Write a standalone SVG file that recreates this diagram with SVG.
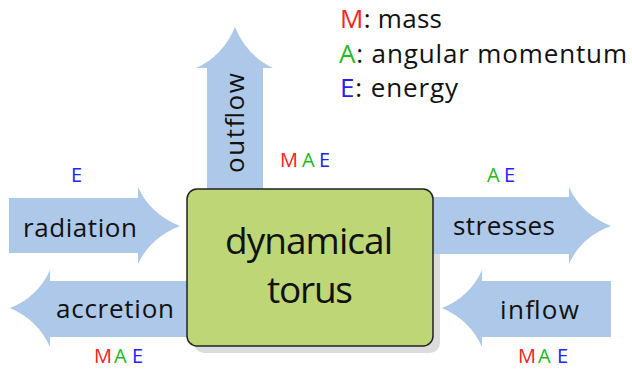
<svg xmlns="http://www.w3.org/2000/svg" width="632" height="369" viewBox="0 0 632 369">
<style>
  .arrow { fill: #adc8e8; }
  .lbl { font-family: "Open Sans", "DejaVu Sans", sans-serif; font-size: 26px; fill: #111; text-anchor: middle; }
  .big { font-family: "Open Sans", "DejaVu Sans", sans-serif; font-size: 37px; fill: #111; text-anchor: middle; }
  .leg { font-family: "Open Sans", "DejaVu Sans", sans-serif; font-size: 26px; fill: #111; }
  .tag { font-family: "Open Sans", "DejaVu Sans", sans-serif; font-size: 20px; }
  .m { fill: #ff2222; }
  .a { fill: #22bb22; }
  .e { fill: #2222ff; }
</style>
<rect width="632" height="369" fill="#ffffff"/>

<g id="legend">
  <text class="leg" x="340" y="28" textLength="102"><tspan class="m">M</tspan>: mass</text>
  <text class="leg" x="339" y="63" textLength="288"><tspan class="a">A</tspan>: angular momentum</text>
  <text class="leg" x="340" y="97" textLength="118"><tspan class="e">E</tspan>: energy</text>
</g>

<rect id="torus-shadow" x="194" y="196" width="246" height="157" rx="10" fill="#dcdcdc"/>

<g id="connectors">
  <g id="outflow">
    <path class="arrow" d="M207,195 V68 H196 Q223,56 235,27 Q247,56 273,68 H263 V195 Z"/>
    <text class="lbl" transform="translate(244,123) rotate(-90)" x="0" y="0" textLength="100">outflow</text>
    <text class="tag" y="167"><tspan class="m" x="280">M</tspan><tspan class="a" x="302">A</tspan><tspan class="e" x="319">E</tspan></text>
  </g>
  <g id="radiation">
    <path class="arrow" d="M9,198 H138 V187 Q150,214 180,226 Q150,238 138,264 V253 H9 Z"/>
    <text class="lbl" x="80" y="237" textLength="114">radiation</text>
    <text class="tag" y="182"><tspan class="e" x="71">E</tspan></text>
  </g>
  <g id="accretion">
    <path class="arrow" d="M195,281 H50 V270 Q38,297 10,308 Q38,320 50,347 V337 H195 Z"/>
    <text class="lbl" x="115" y="318" textLength="118">accretion</text>
    <text class="tag" y="363"><tspan class="m" x="94">M</tspan><tspan class="a" x="114">A</tspan><tspan class="e" x="132">E</tspan></text>
  </g>
  <g id="stresses">
    <path class="arrow" d="M425,197 H569 V187 Q581,214 611,226 Q581,237 569,264 V254 H425 Z"/>
    <text class="lbl" x="504" y="235" textLength="102">stresses</text>
    <text class="tag" y="182"><tspan class="a" x="487">A</tspan><tspan class="e" x="504">E</tspan></text>
  </g>
  <g id="inflow">
    <path class="arrow" d="M611,281 H482 V270 Q470,297 442,308 Q470,320 482,347 V337 H611 Z"/>
    <text class="lbl" x="539.5" y="319" textLength="79">inflow</text>
    <text class="tag" y="363"><tspan class="m" x="518">M</tspan><tspan class="a" x="538">A</tspan><tspan class="e" x="557">E</tspan></text>
  </g>
</g>

<g id="torus">
  <rect x="187" y="189" width="246" height="157" rx="10" fill="#bdd777" stroke="#222" stroke-width="1.5"/>
  <text class="big" x="309" y="254" textLength="168">dynamical</text>
  <text class="big" x="310" y="303" textLength="86">torus</text>
</g>
</svg>
